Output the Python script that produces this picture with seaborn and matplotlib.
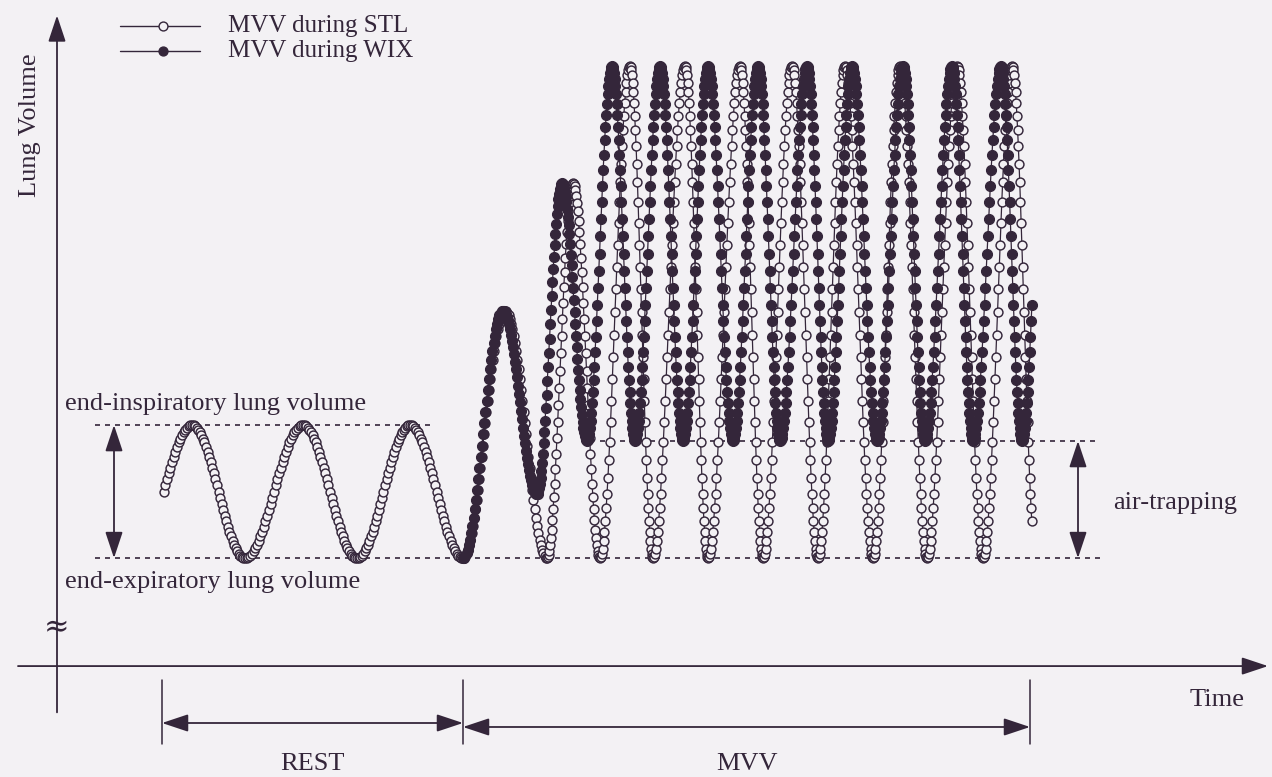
import numpy as np
import pandas as pd
import matplotlib
matplotlib.use("Agg")
import matplotlib.pyplot as plt
import seaborn as sns

# ---------------------------------------------------------------
# Breath-by-breath extrema of the lung-volume trace
# time in s, volume in L above the resting end-expiratory level
# ---------------------------------------------------------------
stl_times = [1.56, 2.70, 3.76, 4.92, 6.00, 7.06, 8.12, 8.96, 9.80, 10.32, 10.86,
             11.46, 11.92, 12.56, 13.02, 13.66, 14.12, 14.70, 15.22, 15.76,
             16.32, 16.86, 17.40, 18.00, 18.52, 19.10, 19.58]
stl_volumes = [0.00, 0.50, 0.00, 0.50, 0.00, 0.50, 0.00, 0.93, 0.00, 1.41, 0.00,
               1.85, 0.00, 1.85, 0.00, 1.85, 0.00, 1.85, 0.00, 1.85,
               0.00, 1.85, 0.00, 1.85, 0.00, 1.85, 0.00]
stl_window = (2.12, 19.50)

wix_times = [8.12, 8.92, 9.60, 10.10, 10.60, 11.10, 11.56, 12.06, 12.52, 13.02,
             13.52, 14.02, 14.46, 15.00, 15.42, 15.90, 16.40, 16.92, 17.36,
             17.90, 18.32, 18.88, 19.30, 19.78]
wix_volumes = [0.00, 0.93, 0.24, 1.41, 0.44, 1.85, 0.44, 1.85, 0.44, 1.85,
               0.44, 1.85, 0.44, 1.85, 0.44, 1.85, 0.44, 1.85, 0.44,
               1.85, 0.44, 1.85, 0.44, 1.85]
wix_window = (8.12, 19.50)

series_labels = ["MVV during STL", "MVV during WIX"]
phase_labels = ["REST", "MVV"]
phase_bounds = [2.10, 8.12, 19.46]
end_insp_level = 0.50
end_exp_level = 0.00
trapped_level = 0.44

SAMPLES_PER_HALF_BREATH = 34


def sample_trace(knot_t, knot_v, window, n):
    """Sample a breathing trace: half-cosine transitions between extrema."""
    kt = np.asarray(knot_t, float)
    kv = np.asarray(knot_v, float)
    frac = np.arange(n) / n
    ease = 0.5 - 0.5 * np.cos(np.pi * frac)
    t = np.concatenate([kt[i] + (kt[i + 1] - kt[i]) * frac for i in range(len(kt) - 1)])
    v = np.concatenate([kv[i] + (kv[i + 1] - kv[i]) * ease for i in range(len(kt) - 1)])
    keep = (t >= window[0] - 1e-9) & (t <= window[1] + 1e-9)
    return t[keep], v[keep]


t_stl, v_stl = sample_trace(stl_times, stl_volumes, stl_window, SAMPLES_PER_HALF_BREATH)
t_wix, v_wix = sample_trace(wix_times, wix_volumes, wix_window, SAMPLES_PER_HALF_BREATH)
df_stl = pd.DataFrame({"time": t_stl, "volume": v_stl, "condition": series_labels[0]})
df_wix = pd.DataFrame({"time": t_wix, "volume": v_wix, "condition": series_labels[1]})

# ---------------------------------------------------------------
# Styling
# ---------------------------------------------------------------
sns.set_theme(style="white")
plt.rcParams["font.family"] = ["Liberation Serif", "DejaVu Serif"]

INK = "#34263a"
PAPER = "#f3f1f4"
FS = 19

fig = plt.figure(figsize=(12.72, 7.77), dpi=100, facecolor=PAPER)
ax = fig.add_axes([0, 0, 1, 1])
ax.set_facecolor(PAPER)
ax.set_xlim(-1.14, 24.30)
ax.set_ylim(-0.823, 2.098)
ax.axis("off")

# traces
sns.lineplot(data=df_stl, x="time", y="volume", sort=False, estimator=None,
             color=INK, lw=0.9, marker="o", markersize=6.4,
             markerfacecolor=PAPER, markeredgecolor=INK, markeredgewidth=1.05,
             legend=False, ax=ax, zorder=3)
sns.lineplot(data=df_wix, x="time", y="volume", sort=False, estimator=None,
             color=INK, lw=0.9, marker="o", markersize=7.2,
             markerfacecolor=INK, markeredgecolor=INK, markeredgewidth=0.8,
             legend=False, ax=ax, zorder=4)

# key
for lab, vy, face in [(series_labels[0], 2.000, PAPER), (series_labels[1], 1.905, INK)]:
    ax.plot([1.26, 2.86], [vy, vy], color=INK, lw=1.0, zorder=5)
    ax.plot([2.12], [vy], marker="o", ms=6.4, mfc=face, mec=INK, mew=1.0, zorder=6)
    ax.text(3.42, vy, lab, fontsize=18, color=INK, va="center", ha="left")

# hand-drawn axes with arrowheads
arrow_kw = dict(arrowstyle="-|>,head_length=0.9,head_width=0.3", color=INK,
                lw=1.3, mutation_scale=18, shrinkA=0, shrinkB=0)
ax.annotate("", xy=(0, 2.04), xytext=(0, -0.58), arrowprops=arrow_kw)
ax.annotate("", xy=(24.22, -0.406), xytext=(-0.78, -0.406), arrowprops=arrow_kw)
ax.text(0, -0.263, "≈", fontsize=22, color=INK, ha="center", va="center",
        family=["DejaVu Serif"])
ax.text(-0.54, 1.628, "Lung Volume", fontsize=FS, color=INK, rotation=90,
        ha="center", va="center")
ax.text(23.2, -0.534, "Time", fontsize=FS, color=INK, ha="center", va="center")

# reference levels
dash = (0, (3, 3))
ax.plot([0.76, 7.56], [end_insp_level] * 2, color=INK, lw=1.2, ls=dash, zorder=2)
ax.plot([0.76, 20.96], [end_exp_level] * 2, color=INK, lw=1.2, ls=dash, zorder=2)
ax.plot([10.86, 20.86], [trapped_level] * 2, color=INK, lw=1.2, ls=dash, zorder=2)

dbl_kw = dict(arrowstyle="<|-|>,head_length=0.9,head_width=0.3", color=INK,
              lw=1.3, mutation_scale=18, shrinkA=0, shrinkB=0)
ax.annotate("", xy=(1.14, end_insp_level), xytext=(1.14, end_exp_level), arrowprops=dbl_kw)
ax.annotate("", xy=(20.42, trapped_level), xytext=(20.42, end_exp_level), arrowprops=dbl_kw)

ax.text(0.16, 0.579, "end-inspiratory lung volume", fontsize=FS, color=INK,
        ha="left", va="center")
ax.text(0.16, -0.09, "end-expiratory lung volume", fontsize=FS, color=INK,
        ha="left", va="center")
ax.text(21.12, 0.207, "air-trapping", fontsize=FS, color=INK, ha="left", va="center")

# phase brackets
for tb in phase_bounds:
    ax.plot([tb, tb], [-0.459, -0.70], color=INK, lw=1.1)
arrow_y = [-0.62, -0.635]
for i, lab in enumerate(phase_labels):
    a, b = phase_bounds[i], phase_bounds[i + 1]
    ax.annotate("", xy=(b, arrow_y[i]), xytext=(a, arrow_y[i]), arrowprops=dbl_kw)
    ax.text((a + b) / 2, -0.775, lab, fontsize=FS, color=INK, ha="center", va="center")

fig.savefig("out.png", dpi=100, facecolor=PAPER)
